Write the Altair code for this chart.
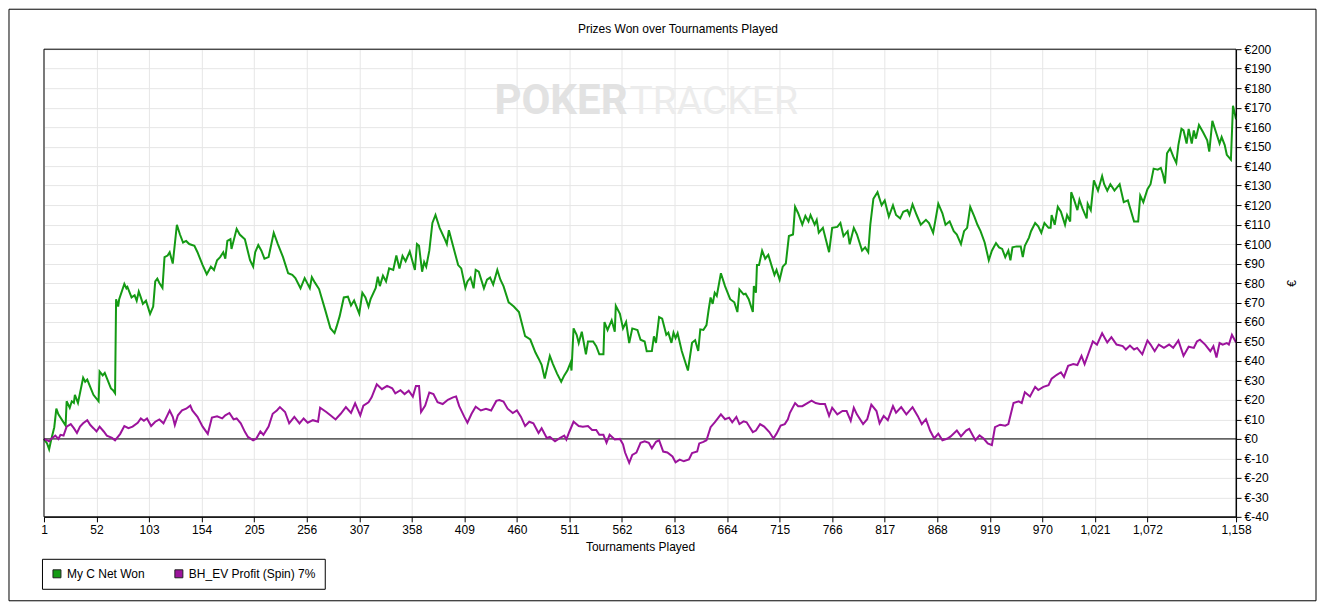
import altair as alt
import pandas as pd

# ---- data ----
series_names = ["My C Net Won", "BH_EV Profit (Spin) 7%"]
series_colors = ["#149a14", "#9c139c"]

green_t = [1, 4, 6, 8, 11, 13, 15, 22, 23, 26, 28, 30, 31, 34, 39, 41, 43, 49, 54, 55, 58, 60, 66, 68, 70, 71,
           73, 74, 79, 81, 82, 86, 89, 91, 93, 95, 97, 100, 104, 107, 109, 111, 113, 116, 118, 121, 123, 126,
           130, 133, 136, 139, 142, 147, 150, 155, 159, 163, 166, 169, 172, 175, 177, 179, 182, 183, 188, 191,
           196, 201, 204, 206, 209, 212, 215, 219, 224, 228, 233, 238, 242, 245, 250, 254, 259, 261, 264, 268,
           274, 279, 283, 285, 288, 292, 296, 299, 302, 307, 310, 313, 316, 318, 323, 325, 327, 330, 333, 336,
           340, 343, 346, 349, 352, 356, 361, 363, 365, 368, 370, 372, 375, 378, 381, 385, 390, 392, 394, 398,
           403, 406, 410, 412, 415, 418, 420, 423, 428, 431, 434, 437, 441, 444, 447, 452, 457, 462, 468, 473,
           478, 481, 484, 487, 492, 495, 499, 503, 506, 509, 512, 513, 515, 518, 520, 523, 527, 529, 534, 537,
           540, 544, 545, 548, 552, 555, 556, 560, 563, 566, 569, 572, 577, 580, 584, 586, 591, 593, 595, 598,
           601, 605, 607, 610, 612, 614, 616, 620, 626, 630, 633, 636, 638, 641, 644, 646, 648, 650, 652, 654,
           658, 662, 667, 671, 674, 676, 680, 682, 685, 689, 690, 692, 693, 695, 698, 701, 704, 708, 710, 712,
           715, 718, 721, 724, 728, 730, 733, 737, 740, 743, 745, 749, 751, 753, 757, 763, 766, 771, 774, 777,
           781, 783, 787, 790, 795, 798, 801, 803, 806, 810, 814, 817, 821, 825, 828, 832, 835, 839, 841, 844,
           848, 852, 857, 860, 864, 866, 869, 873, 876, 880, 884, 887, 891, 894, 897, 900, 904, 907, 910, 914,
           918, 921, 925, 928, 931, 934, 937, 939, 941, 945, 949, 951, 953, 957, 959, 963, 966, 969, 972, 976,
           978, 979, 982, 985, 988, 992, 994, 997, 998, 1001, 1004, 1006, 1009, 1013, 1014, 1017, 1020, 1024,
           1028, 1030, 1033, 1036, 1040, 1045, 1049, 1053, 1059, 1063, 1065, 1068, 1072, 1075, 1078, 1082,
           1085, 1087, 1089, 1091, 1094, 1097, 1100, 1102, 1105, 1107, 1110, 1112, 1115, 1117, 1119, 1122,
           1126, 1130, 1132, 1135, 1139, 1142, 1144, 1147, 1149, 1153, 1155, 1158]
green_v = [0, -2.3, -5.3, -0.4, 6, 15.5, 12.6, 6.8, 19.3, 16, 19.3, 18.5, 22.6, 18.5, 31.4, 29.3, 30.4, 22.6,
           19.3, 34.6, 32.6, 33.9, 25.9, 25, 23.4, 71.7, 67.9, 71.7, 79.5, 77.3, 78, 72.6, 73.7, 70.9, 75.6,
           72.6, 69.3, 70.9, 64.2, 67.9, 80.8, 82.2, 80, 77.5, 93.3, 94.1, 95.8, 90, 109.9, 104.9, 100.8, 101.6,
           100, 99.1, 95.8, 89.2, 84.5, 88.4, 86.7, 91.7, 93.3, 95.8, 92.5, 101.6, 102.5, 97.5, 107.8, 104.9,
           102.5, 91.7, 88.4, 95.8, 99.5, 96.6, 92.5, 93.3, 105.8, 100, 93.3, 85, 84.2, 82.5, 77.3, 82.5, 77.3,
           83, 80.2, 76.9, 66.1, 56.8, 54.3, 57.6, 63, 72.6, 73, 68.5, 71, 64.3, 75, 72.6, 67.9, 71.7, 77.5,
           83.3, 78.4, 83.8, 80.8, 87.5, 86.7, 94.1, 87.5, 93.9, 91.2, 96.2, 86.7, 100, 99.1, 85.8, 90.8, 88.4,
           96.6, 110.8, 114.9, 108.3, 102.5, 100, 107.1, 99.1, 89.2, 87.5, 77.5, 80.8, 82.8, 77.3, 86.7, 85.8,
           77.3, 81.7, 82.8, 79.2, 86.7, 81.7, 78.4, 70.1, 67.9, 65.1, 52.7, 51, 44.3, 41.3, 38, 31, 42.6, 38.4,
           33.5, 29.3, 32.6, 35.1, 39, 35.1, 56.7, 53.4, 49.2, 55, 43.4, 50, 50, 47.6, 43.4, 43.4, 60, 55.9,
           60.9, 55, 68.3, 64.2, 56.7, 60, 49.2, 56.7, 55.9, 50.9, 50, 45, 45.1, 52.6, 49.3, 62.5, 61.7, 53.4,
           54.5, 49.3, 54.5, 51.7, 54.2, 45.1, 35.1, 49.3, 50.6, 45.1, 56.2, 55.9, 58.4, 65.9, 72.6, 69.3, 75,
           73.4, 85, 78.4, 71.7, 70.1, 65.1, 76.7, 74.2, 74.5, 71.7, 65.1, 78.4, 75, 89.2, 89.2, 96.6, 92.5,
           94.5, 87.5, 84.2, 86.7, 81.7, 88.4, 90, 104.1, 104.9, 119.1, 115.8, 110, 114.4, 111.6, 114.9, 110,
           112.4, 105.8, 108.3, 95.8, 108.3, 108.8, 110.8, 104.1, 106.6, 99.9, 108.3, 105, 96.6, 98.3, 95.8,
           109.9, 123.2, 126.6, 119.9, 122.4, 114.1, 119.9, 114.9, 113.2, 116.6, 117.4, 114.9, 120.4, 114.9,
           109.9, 112.4, 110.8, 105.8, 111.6, 120.7, 115.8, 109.9, 111.6, 106.6, 104.9, 100, 106.6, 108.3,
           119.1, 114.1, 109.9, 106.6, 100.8, 91.7, 96.6, 100.5, 98.3, 97.5, 93.3, 96.6, 91.7, 98.3, 98.8,
           98.8, 93.3, 99.1, 103.3, 106.6, 110.8, 109.1, 105.8, 110.8, 108.3, 108.3, 114.9, 109.9, 119.1,
           116.6, 109.9, 114.9, 111.6, 126.6, 122.4, 117.4, 122.7, 118.2, 113.2, 120.7, 117.4, 132.7, 127.4,
           134.9, 130.7, 127.4, 130.7, 127.4, 130.7, 121.5, 122.4, 111.6, 111.6, 124.9, 121.5, 128.2, 130.7,
           138.7, 138.2, 139.1, 135.8, 131.1, 146.6, 149.1, 145, 141.6, 150.8, 159.1, 158.3, 151.6, 159.1,
           151.6, 158.3, 154.1, 161.1, 157.4, 153.2, 147.4, 163.2, 156.6, 151.6, 154.9, 150.8, 145.8, 143.3,
           171, 164]

purple_t = [1, 6, 9, 12, 15, 17, 20, 23, 27, 30, 33, 36, 39, 43, 46, 49, 52, 55, 59, 62, 67, 70, 75, 79, 83,
            87, 92, 95, 98, 101, 105, 109, 113, 117, 123, 126, 128, 131, 135, 139, 143, 145, 150, 155, 160,
            164, 169, 174, 177, 181, 185, 188, 192, 196, 199, 204, 207, 211, 214, 219, 223, 227, 230, 235, 239,
            244, 249, 253, 257, 262, 267, 269, 275, 279, 284, 289, 294, 299, 303, 308, 311, 316, 319, 324, 329,
            334, 339, 342, 347, 351, 355, 359, 362, 365, 367, 371, 375, 379, 383, 388, 393, 398, 401, 404, 409,
            412, 416, 420, 425, 430, 435, 440, 443, 447, 451, 456, 460, 464, 468, 472, 476, 481, 484, 489, 492,
            497, 502, 506, 508, 511, 515, 520, 524, 529, 533, 537, 540, 544, 547, 550, 555, 560, 563, 565, 569,
            572, 576, 580, 584, 588, 591, 595, 598, 602, 606, 611, 614, 618, 622, 627, 630, 635, 637, 641, 644,
            648, 652, 658, 662, 666, 669, 673, 676, 680, 683, 686, 689, 692, 696, 700, 705, 709, 712, 716, 720,
            723, 725, 730, 733, 737, 742, 746, 750, 754, 759, 763, 766, 771, 776, 780, 784, 787, 790, 796, 800,
            804, 809, 812, 816, 820, 825, 828, 833, 838, 844, 849, 853, 857, 861, 865, 869, 873, 878, 881, 887,
            891, 896, 899, 905, 909, 913, 917, 921, 924, 929, 934, 937, 942, 947, 950, 953, 958, 963, 966, 971,
            976, 979, 984, 988, 991, 995, 1000, 1004, 1008, 1011, 1015, 1019, 1023, 1028, 1033, 1037, 1042,
            1048, 1051, 1055, 1059, 1062, 1067, 1072, 1075, 1079, 1083, 1088, 1093, 1097, 1102, 1107, 1112,
            1117, 1120, 1123, 1128, 1133, 1136, 1139, 1142, 1145, 1149, 1151, 1154, 1158]
purple_v = [0, -1.2, 0.5, 1.7, 0, 2.1, 1.7, 6.3, 7.6, 5.5, 3, 6.3, 8, 9.6, 7.1, 5.5, 3.8, 6.3, 3.8, 1.7, 0.5,
            -0.7, 2.6, 6.6, 5.5, 6.3, 8.3, 10.5, 9.3, 10.5, 6.6, 8.8, 10, 8, 14.6, 11.3, 7.1, 12.1, 14.6, 15.5,
            17.1, 14.6, 11.3, 6.3, 2.6, 11, 11.6, 10.5, 12.1, 13.3, 10, 10.5, 8, 3.6, 1, -0.7, 0.1, 3.8, 2.1,
            6.3, 12.9, 14.6, 16.3, 13.8, 8, 11.3, 8, 10.5, 8.3, 9.6, 8.8, 16, 13.8, 12.1, 10, 12.9, 16.3, 13.3,
            18.3, 12.1, 17.1, 18.8, 21.3, 28, 25.5, 27.2, 26, 23.4, 25, 23, 24.7, 21.7, 27.2, 27.2, 13.8, 17.1,
            23.8, 23, 18.8, 17.9, 20.1, 21.3, 21.8, 16.8, 11.3, 8.3, 12.9, 16.5, 14.6, 15.5, 14.6, 19.5, 19.9,
            19.2, 15.5, 13.3, 14.6, 11.3, 6.6, 8.8, 8, 3, 5.5, 0.5, 1, -1.2, 0.5, 1.7, -0.3, 3.8, 8.8, 6.6, 6.3,
            6.6, 4.6, 4.6, 2.1, 2.1, -2, 2.1, -0.3, 0, -2.8, -7, -12.3, -8.2, -7, -2, -1.2, -2, -4.8, -1.5, -0.7,
            -6.5, -7, -9, -12, -10.6, -11.5, -10.6, -7.3, -6.5, -2.3, -1.5, -0.7, 6, 8.5, 12.6, 10.1, 10.9, 8.5,
            11.3, 7.6, 9, 8.5, 6, 3.5, 4.3, 7.6, 6.3, 3.5, 0.2, 2.7, 6.8, 7.6, 10.1, 13.4, 18.4, 16.8, 16.8,
            18.4, 19.6, 18.4, 17.9, 17.9, 11.8, 16, 12.6, 14.3, 14.3, 9.3, 16, 12.6, 7.6, 10.1, 17.6, 14.3, 8,
            11.8, 9.6, 16.8, 13.4, 16.3, 12.6, 16.3, 11.8, 7.6, 10.1, 4.3, 0.2, 2.7, -0.7, 0.2, 1.3, 4.3, 1.3,
            4.3, 5.2, -0.7, 1.8, 0.2, -2.3, -3.2, 6, 7.3, 6.8, 7.6, 18.4, 19.3, 18.4, 23.9, 21.8, 26.7, 25.1,
            26.7, 27.6, 30.9, 32.9, 34.2, 31.8, 37.5, 38.4, 37.9, 42.6, 38.4, 44.2, 50, 48.4, 54.2, 49.5, 52.2,
            48.4, 47.6, 45.9, 47.9, 45.9, 46.7, 43.4, 50.5, 48.4, 45, 48.4, 46.7, 48.4, 46.7, 50.5, 42.6, 47.3,
            46.7, 50, 50.9, 48.4, 45, 47.6, 41.8, 49.2, 48.4, 49.2, 48.4, 53.4, 49.5]

x_ticks = [1, 52, 103, 154, 205, 256, 307, 358, 409, 460, 511, 562, 613, 664, 715, 766, 817, 868, 919, 970,
           1021, 1072, 1158]
y_ticks = list(range(-40, 201, 10))
title_text = "Prizes Won over Tournaments Played"

# ---- tables ----
df = pd.concat([
    pd.DataFrame({"t": green_t, "v": green_v, "series": series_names[0], "k": 0}),
    pd.DataFrame({"t": purple_t, "v": purple_v, "series": series_names[1], "k": 1}),
], ignore_index=True)
one = pd.DataFrame({"v": [0]})

W, H = 1193, 468
FONT = "Liberation Sans"
GRID = "#e6e6e6"

xscale = alt.Scale(domain=[1, 1158], nice=False, zero=False)
yscale = alt.Scale(domain=[-40, 200], nice=False, zero=False)

x_axis = alt.Axis(
    values=x_ticks, format=",d", title="Tournaments Played", grid=True, gridColor=GRID,
    labelFlush=False, labelOverlap=False, tickSize=5, labelPadding=3, titlePadding=6,
    domainColor="black", tickColor="black", labelFont=FONT, labelFontSize=12, labelColor="black",
    titleFont=FONT, titleFontSize=12, titleFontWeight="normal", titleColor="black")
y_axis = alt.Axis(
    orient="right", values=y_ticks, labelExpr="'€' + datum.value", title="€", titleAngle=270,
    grid=True, gridColor=GRID, tickSize=5, labelPadding=3, titlePadding=28, domainColor="black",
    tickColor="black", labelOverlap=False, labelFont=FONT, labelFontSize=12, labelColor="black",
    titleFont=FONT, titleFontSize=12, titleFontWeight="normal", titleColor="black")

outer = alt.Chart(one).mark_rect(fill="white", fillOpacity=0, stroke="black", strokeWidth=1).encode(
    x=alt.value(-35), x2=alt.value(W + 80), y=alt.value(-40), y2=alt.value(H + 84))

plot_frame = alt.Chart(one).mark_rect(fill="white", fillOpacity=0, stroke="black", strokeWidth=1).encode(
    x=alt.value(0), x2=alt.value(W), y=alt.value(0), y2=alt.value(H))

title = alt.Chart(one).mark_text(text=title_text, font=FONT, fontSize=12, color="black",
                                 align="center", baseline="alphabetic").encode(
    x=alt.value(W / 2 + 38), y=alt.value(-16))

wm1 = alt.Chart(one).mark_text(text="POKER", font="Roboto", fontSize=42,
                               fontWeight="bold", color="#e2e2e2", align="right",
                               baseline="alphabetic").encode(x=alt.value(584), y=alt.value(65))
wm2 = alt.Chart(one).mark_text(text="TRACKER", font="Roboto", fontSize=39,
                               color="#ececec", align="left",
                               baseline="alphabetic").encode(x=alt.value(586), y=alt.value(65))

lines = alt.Chart(df).mark_line(strokeWidth=2).encode(
    x=alt.X("t:Q", scale=xscale, axis=x_axis),
    y=alt.Y("v:Q", scale=yscale, axis=y_axis),
    color=alt.Color("series:N", scale=alt.Scale(domain=series_names, range=series_colors), legend=None),
    order="t:Q")

zero = alt.Chart(one).mark_rule(color="black", strokeWidth=1).encode(
    y=alt.Y("v:Q", scale=yscale, axis=y_axis))

legend_layer = alt.Chart(df).transform_filter("false").mark_square(opacity=1).encode(
    fill=alt.Fill("series:N", scale=alt.Scale(domain=series_names, range=series_colors),
                  legend=alt.Legend(title=None, orient="none", legendX=-2, legendY=H + 42,
                                    direction="horizontal", strokeColor="black", fillColor="white",
                                    padding=9, symbolType="square", symbolSize=64,
                                    symbolStrokeColor="#222222", symbolStrokeWidth=1,
                                    labelFont=FONT, labelFontSize=12, labelColor="black",
                                    labelOffset=4, columnPadding=28)))

chart = alt.layer(outer, wm1, wm2, zero, lines, plot_frame, legend_layer, title).properties(
    width=W, height=H, padding=0, background="white"
).resolve_scale(color="independent").configure_view(
    stroke=None
)

chart.save("out.html", embed_options={"renderer": "svg", "actions": False})
